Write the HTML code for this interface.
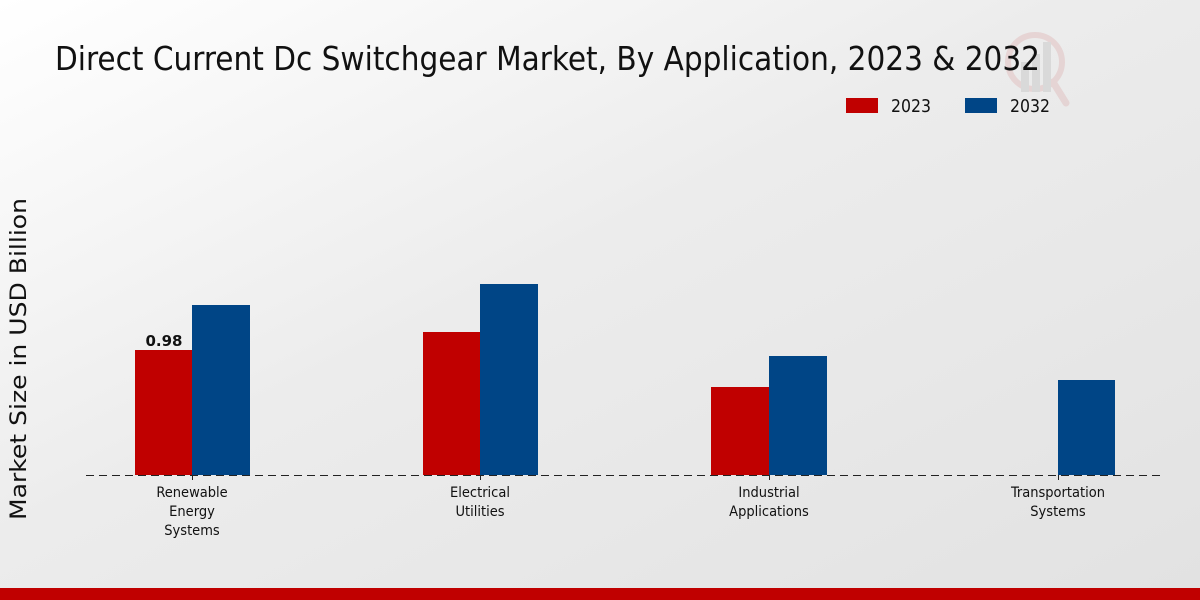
<!DOCTYPE html>
<html>
<head>
<meta charset="utf-8">
<style>
html,body{margin:0;padding:0;width:1200px;height:600px;overflow:hidden;}
svg{display:block;}
text{font-family:"DejaVu Sans","Liberation Sans",sans-serif;}
</style>
</head>
<body>
<svg width="1200" height="600" viewBox="0 0 1200 600" xmlns="http://www.w3.org/2000/svg">
<defs>
<linearGradient id="bg" x1="0" y1="0" x2="1" y2="1" gradientUnits="objectBoundingBox">
<stop offset="0" stop-color="#ffffff"/>
<stop offset="0.45" stop-color="#ececec"/>
<stop offset="1" stop-color="#e2e2e2"/>
</linearGradient>
</defs>
<rect x="0" y="0" width="1200" height="600" fill="url(#bg)"/>

<!-- watermark -->
<g opacity="0.3">
<circle cx="1035" cy="62" r="27" fill="none" stroke="#d9a0a0" stroke-width="6"/>
<line x1="1053" y1="82" x2="1066" y2="103" stroke="#d9a0a0" stroke-width="7" stroke-linecap="round"/>
<rect x="1021" y="62" width="8" height="30" fill="#b0b0b0"/>
<rect x="1032" y="54" width="8" height="38" fill="#b0b0b0"/>
<rect x="1043" y="42" width="8" height="50" fill="#b0b0b0"/>
</g>

<!-- title -->
<text x="55" y="70" font-size="33" fill="#111" textLength="985" lengthAdjust="spacingAndGlyphs" style="font-stretch:condensed">Direct Current Dc Switchgear Market, By Application, 2023 &amp; 2032</text>

<!-- legend -->
<rect x="846" y="98" width="32" height="15" fill="#c00000"/>
<text x="891" y="112" font-size="18" fill="#111" textLength="40" lengthAdjust="spacingAndGlyphs">2023</text>
<rect x="965" y="98" width="32" height="15" fill="#004586"/>
<text x="1010" y="112" font-size="18" fill="#111" textLength="40" lengthAdjust="spacingAndGlyphs">2032</text>

<!-- y axis label -->
<text transform="translate(26,359) rotate(-90)" text-anchor="middle" font-size="22" fill="#111" textLength="322" lengthAdjust="spacingAndGlyphs">Market Size in USD Billion</text>

<!-- bars -->
<rect x="135" y="350" width="57" height="125" fill="#c00000"/>
<rect x="192" y="305" width="58" height="170" fill="#004586"/>
<rect x="423" y="332" width="57" height="143" fill="#c00000"/>
<rect x="480" y="284" width="58" height="191" fill="#004586"/>
<rect x="711" y="387" width="58" height="88" fill="#c00000"/>
<rect x="769" y="356" width="58" height="119" fill="#004586"/>
<rect x="1058" y="380" width="57" height="95" fill="#004586"/>

<!-- value label -->
<text x="164" y="346" text-anchor="middle" font-size="15" font-weight="bold" fill="#111">0.98</text>

<!-- baseline -->
<line x1="86" y1="475.5" x2="1163" y2="475.5" stroke="#222" stroke-width="1" stroke-dasharray="8,5"/>
<g stroke="#222" stroke-width="1">
<line x1="192.5" y1="475" x2="192.5" y2="480"/>
<line x1="480.5" y1="475" x2="480.5" y2="480"/>
<line x1="769.5" y1="475" x2="769.5" y2="480"/>
<line x1="1058.5" y1="475" x2="1058.5" y2="480"/>
</g>

<!-- category labels -->
<g font-size="14.5" fill="#111" text-anchor="middle" style="font-stretch:condensed">
<text x="192" y="497">Renewable</text>
<text x="192" y="516">Energy</text>
<text x="192" y="535">Systems</text>
<text x="480" y="497">Electrical</text>
<text x="480" y="516">Utilities</text>
<text x="769" y="497">Industrial</text>
<text x="769" y="516">Applications</text>
<text x="1058" y="497">Transportation</text>
<text x="1058" y="516">Systems</text>
</g>

<!-- bottom bar -->
<rect x="0" y="588" width="1200" height="12" fill="#c00000"/>
</svg>
</body>
</html>
